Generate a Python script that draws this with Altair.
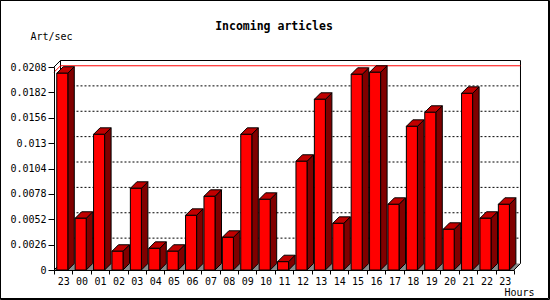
import json
import altair as alt
import pandas as pd

# ---- data ----
hours = ["23", "00", "01", "02", "03", "04", "05", "06", "07", "08", "09", "10",
         "11", "12", "13", "14", "15", "16", "17", "18", "19", "20", "21", "22", "23"]
rates = [0.02016, 0.0053, 0.0139, 0.00192, 0.00837, 0.00222, 0.00192, 0.0056,
         0.00755, 0.00335, 0.0139, 0.00724, 0.00085, 0.01114, 0.01749, 0.00478,
         0.02005, 0.02026, 0.00673, 0.01472, 0.01616, 0.00417, 0.0181, 0.0053, 0.00673]
y_ticks = [0, 0.0026, 0.0052, 0.0078, 0.0104, 0.013, 0.0156, 0.0182, 0.0208]
chart_title = "Incoming articles"
y_title = "Art/sec"
x_title = "Hours"

# ---- geometry of the pseudo-3D look (in data units) ----
N = len(hours)
YMAX = y_ticks[-1]
BAR_L, BAR_R = 0.15, 0.75      # front face inside each band
DX = 0.353                     # depth along x (band units)
DV = 0.000666                  # depth along y (value units)
W, H = 460, 203
FONT = "DejaVu Sans Mono"

xs = alt.Scale(domain=[0, N], nice=False, zero=False)
ys = alt.Scale(domain=[0, YMAX], nice=False, zero=False)

front = pd.DataFrame({
    "x": [i + BAR_L for i in range(N)],
    "x2": [i + BAR_R for i in range(N)],
    "y": rates,
    "y0": [0.0] * N,
})

side_rows, top_rows = [], []
for i, v in enumerate(rates):
    side_rows.append({"bar": i, "x": i + BAR_R, "y": 0.0, "y2": v})
    side_rows.append({"bar": i, "x": i + BAR_R + DX, "y": DV, "y2": v + DV})
    top_rows.append({"bar": i, "y": v, "x": i + BAR_L, "x2": i + BAR_R})
    top_rows.append({"bar": i, "y": v + DV, "x": i + BAR_L + DX, "x2": i + BAR_R + DX})
side = pd.DataFrame(side_rows)
top = pd.DataFrame(top_rows)

floor = pd.DataFrame({"y": [0.0, DV], "x": [0.0, DX], "x2": [float(N), N + DX]})

frame = pd.DataFrame([
    {"x": DX, "y": YMAX + DV, "x2": N + DX, "y2": YMAX + DV},   # back top
    {"x": DX, "y": DV, "x2": DX, "y2": YMAX + DV},               # back left
    {"x": N + DX, "y": DV, "x2": N + DX, "y2": YMAX + DV},       # back right
    {"x": 0.0, "y": YMAX, "x2": DX, "y2": YMAX + DV},            # left wall top
    {"x": 0.0, "y": 0.0, "x2": DX, "y2": DV},                    # left wall bottom
    {"x": float(N), "y": 0.0, "x2": N + DX, "y2": DV},           # floor right
])

grid = pd.DataFrame({"y": [t + DV for t in y_ticks[1:-1]]})
grid["x"] = DX
grid["x2"] = N + DX

vmax = max(rates)
maxline = pd.DataFrame([
    {"x": DX, "y": vmax + DV, "x2": N + DX, "y2": vmax + DV},
    {"x": 0.0, "y": vmax, "x2": DX, "y2": vmax + DV},
])

label_expr = f"datum.value < {N} ? {json.dumps(hours)}[datum.value] : ''"

x_axis = alt.Axis(
    values=list(range(N + 1)), labelExpr=label_expr, labelOffset=W / N / 2,
    labelFlush=False, labelOverlap=False, tickSize=4, labelPadding=2,
    grid=False, domainColor="black", tickColor="black", labelColor="black",
    labelFont=FONT, labelFontSize=10, title=x_title, titleFont=FONT,
    titleFontSize=10, titleFontWeight="normal", titleColor="black",
    titleX=480, titleY=22, titleAlign="right", titleBaseline="middle",
    zindex=1)
y_axis = alt.Axis(
    values=y_ticks, labelExpr="'' + datum.value", tickSize=6, labelPadding=2,
    grid=False, labelOverlap=False,
    domainColor="black", tickColor="black", labelColor="black",
    labelFont=FONT, labelFontSize=10, title=y_title, titleFont=FONT,
    titleFontSize=10, titleFontWeight="normal", titleColor="black",
    titleAngle=0, titleX=-24, titleY=-31, titleAlign="left",
    titleBaseline="middle", zindex=1)

X = lambda f="x:Q", **k: alt.X(f, scale=xs, axis=x_axis, **k)
Y = lambda f="y:Q", **k: alt.Y(f, scale=ys, axis=y_axis, **k)

floor_l = alt.Chart(floor).mark_area(orient="horizontal", color="#8a8a8a").encode(
    y=Y(stack=None), x=X(stack=None), x2="x2:Q")

frame_l = alt.Chart(frame).mark_rule(color="black", strokeWidth=1).encode(
    x=X(), y=Y(), x2="x2:Q", y2="y2:Q")

grid_l = alt.Chart(grid).mark_rule(color="black", strokeWidth=1, strokeDash=[2, 2]).encode(
    x=X(), y=Y(), x2="x2:Q")

max_l = alt.Chart(maxline).mark_rule(color="#ff0000", strokeWidth=1).encode(
    x=X(), y=Y(), x2="x2:Q", y2="y2:Q")

side_l = alt.Chart(side).mark_area(orient="vertical", color="#800000",
                                   stroke="black", strokeWidth=1).encode(
    x=X(), y=Y(stack=None), y2="y2:Q", detail="bar:N")

top_l = alt.Chart(top).mark_area(orient="horizontal", color="#c00000",
                                 stroke="black", strokeWidth=1).encode(
    y=Y(), x=X(stack=None), x2="x2:Q", detail="bar:N")

front_l = alt.Chart(front).mark_rect(color="#ff0000", stroke="black", strokeWidth=1).encode(
    x=X(), x2="x2:Q", y=Y(), y2="y0:Q")

title_l = alt.Chart(pd.DataFrame({"t": [chart_title]})).mark_text(
    font=FONT, fontSize=11.5, fontWeight="bold", color="black",
    align="center", baseline="middle").encode(
    text="t:N", x=alt.value(274 - 54), y=alt.value(27 - 67))

border = alt.Chart(pd.DataFrame({"k": [0]})).mark_rect(
    fill=None, stroke="black", strokeWidth=1).encode(
    x=alt.value(-53.5), x2=alt.value(550 - 54 - 1.5),
    y=alt.value(-66.5), y2=alt.value(300 - 67 - 1.5))
border2 = alt.Chart(pd.DataFrame({"k": [0]})).mark_rect(
    fill=None, stroke="black", strokeWidth=1).encode(
    x=alt.value(-53.5), x2=alt.value(550 - 54 - 0.5),
    y=alt.value(-66.5), y2=alt.value(300 - 67 - 0.5))

chart = alt.layer(
    floor_l, frame_l, grid_l, max_l, side_l, top_l, front_l, title_l, border, border2
).properties(
    width=W, height=H,
    autosize=alt.AutoSizeParams(type="none"),
    padding={"left": 54, "top": 67, "right": 550 - 54 - W, "bottom": 300 - 67 - H},
    background="white",
).configure_view(stroke=None)

chart.save("out.html", embed_options={"renderer": "svg", "actions": False})
